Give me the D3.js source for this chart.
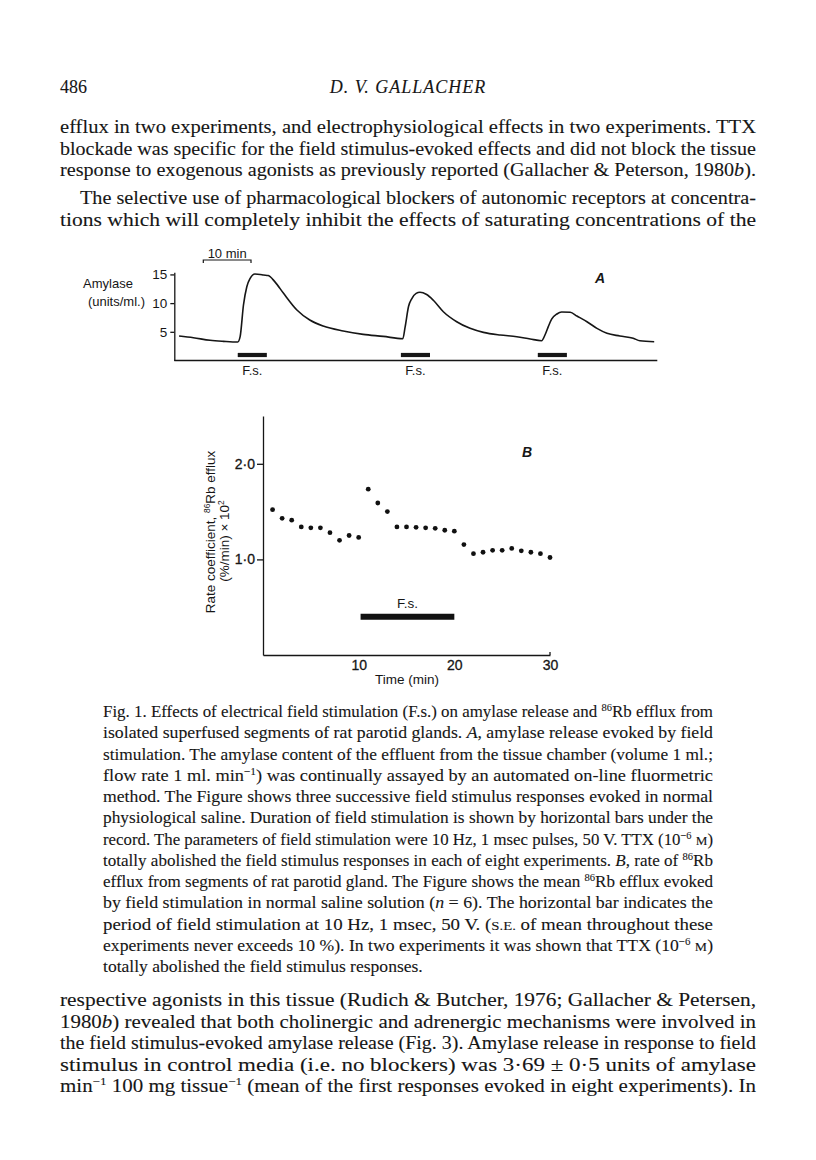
<!DOCTYPE html>
<html>
<head>
<meta charset="utf-8">
<script src="https://cdn.jsdelivr.net/npm/d3@7"></script>
<style>
  body { margin: 0; background: #fff; }
  text { fill: #161616; }
</style>
</head>
<body>
<svg id="page" width="816" height="1160"></svg>
<script>
// ---- Fig. 1A : amylase trace (time in min, amylase in units/ml.)
var traceTime = [1.0, 4.0, 7.5, 10.3, 13.3, 13.8, 14.5, 15.2, 15.9, 16.9, 18.0, 18.7, 19.7, 21.1, 22.9, 25.7,
  28.4, 31.2, 35.4, 39.6, 43.8, 47.9, 48.4, 49.1, 49.8, 50.7, 51.5, 52.9, 54.3, 56.4, 59.2, 62.0, 64.8, 68.3,
  71.8, 74.6, 77.0, 77.7, 78.4, 79.1, 80.2, 81.2, 83.0, 84.4, 86.5, 88.6, 90.7, 93.4, 96.2, 97.6, 100.6];
var traceAmylase = [4.27, 3.97, 3.52, 3.34, 3.22, 4.15, 9.67, 12.86, 14.3, 15.07, 15.0, 14.9, 14.8, 13.7, 11.7, 8.8,
  7.05, 6.0, 5.14, 4.56, 4.2, 3.8, 5.9, 9.4, 10.8, 11.7, 11.9, 11.5, 10.5, 8.5, 6.76, 5.6, 4.9, 4.44,
  4.15, 3.75, 3.45, 4.44, 5.9, 7.2, 8.1, 8.45, 8.4, 7.75, 6.76, 5.6, 4.74, 4.27, 3.87, 3.45, 3.28];
var stimStartA = [13.3, 47.5, 76.2];
var stimEndA = [19.4, 53.6, 82.3];
var ticksA = [5, 10, 15];

// ---- Fig. 1B : 86Rb efflux rate coefficient
var rbTime = [1, 2, 3, 4, 5, 6, 7, 8, 9, 10, 11, 12, 13, 14, 15, 16, 17, 18, 19, 20,
  21, 22, 23, 24, 25, 26, 27, 28, 29, 30];
var rbRate = [1.52, 1.43, 1.41, 1.34, 1.33, 1.33, 1.28, 1.20, 1.25, 1.23, 1.735, 1.59, 1.50, 1.34, 1.34, 1.335,
  1.33, 1.325, 1.305, 1.295, 1.155, 1.06, 1.075, 1.095, 1.095, 1.115, 1.09, 1.075, 1.06, 1.02];
var stimB = [10.2, 20];
var ticksBy = [1.0, 2.0];
var ticksBx = [10, 20, 30];

// ---- page text (*italic*, ^superscript^, ~small caps~)
var bodyTop = [
  "efflux in two experiments, and electrophysiological effects in two experiments. TTX",
  "blockade was specific for the field stimulus-evoked effects and did not block the tissue",
  "response to exogenous agonists as previously reported (Gallacher & Peterson, 1980*b*).",
  "The selective use of pharmacological blockers of autonomic receptors at concentra-",
  "tions which will completely inhibit the effects of saturating concentrations of the"
];
var captionLines = [
  "Fig. 1. Effects of electrical field stimulation (F.s.) on amylase release and ^86^Rb efflux from",
  "isolated superfused segments of rat parotid glands. *A*, amylase release evoked by field",
  "stimulation. The amylase content of the effluent from the tissue chamber (volume 1 ml.;",
  "flow rate 1 ml. min^\u22121^) was continually assayed by an automated on-line fluormetric",
  "method. The Figure shows three successive field stimulus responses evoked in normal",
  "physiological saline. Duration of field stimulation is shown by horizontal bars under the",
  "record. The parameters of field stimulation were 10 Hz, 1 msec pulses, 50 V. TTX (10^\u22126^ ~M~)",
  "totally abolished the field stimulus responses in each of eight experiments. *B*, rate of ^86^Rb",
  "efflux from segments of rat parotid gland. The Figure shows the mean ^86^Rb efflux evoked",
  "by field stimulation in normal saline solution (*n* = 6). The horizontal bar indicates the",
  "period of field stimulation at 10 Hz, 1 msec, 50 V. (~S.E.~ of mean throughout these",
  "experiments never exceeds 10 %). In two experiments it was shown that TTX (10^\u22126^ ~M~)",
  "totally abolished the field stimulus responses."
];
var bodyBottom = [
  "respective agonists in this tissue (Rudich & Butcher, 1976; Gallacher & Petersen,",
  "1980*b*) revealed that both cholinergic and adrenergic mechanisms were involved in",
  "the field stimulus-evoked amylase release (Fig. 3). Amylase release in response to field",
  "stimulus in control media (i.e. no blockers) was 3\u00b769 \u00b1 0\u00b75 units of amylase",
  "min^\u22121^ 100 mg tissue^\u22121^ (mean of the first responses evoked in eight experiments). In"
];

var svg = d3.select('#page');
var serif = '"Liberation Serif", "Times New Roman", serif';
var sans = '"Liberation Sans", Arial, sans-serif';

// write one line of marked-up text, optionally stretched to a given width
function richText(g, x, y, str, size, width) {
  var t = g.append('text')
      .attr('x', x)
      .attr('y', y)
      .style('font-size', size + 'px');
  var parts = str.split(/(\*[^*]+\*|\^[^^]+\^|~[^~]+~)/).filter(function(s) { return s.length; });
  var shift = Math.round(size * 0.38);
  var raised = false;
  parts.forEach(function(p) {
    var span = t.append('tspan');
    if (raised) { span.attr('dy', shift); raised = false; }
    if (p[0] === '*') {
      span.style('font-style', 'italic').text(p.slice(1, -1));
    } else if (p[0] === '^') {
      span.attr('dy', -shift).style('font-size', (size * 0.62) + 'px').text(p.slice(1, -1));
      raised = true;
    } else if (p[0] === '~') {
      span.style('font-size', (size * 0.78) + 'px').text(p.slice(1, -1));
    } else {
      span.text(p);
    }
  });
  if (width) {
    t.attr('textLength', width).attr('lengthAdjust', 'spacingAndGlyphs');
  }
  return t;
}

// a justified block; lines in `loose` keep the block's average stretch
function textBlock(g, lines, x0, x1, y0, lead, size, indents, loose) {
  var ratios = [];
  var nodes = lines.map(function(line, i) {
    var x = x0 + (indents[i] || 0);
    var t = richText(g, x, y0 + i * lead, line, size);
    var w = t.node().getComputedTextLength();
    if (loose.indexOf(i) < 0) ratios.push((x1 - x) / w);
    return { t: t, x: x, w: w, loose: loose.indexOf(i) >= 0 };
  });
  var avg = d3.mean(ratios);
  nodes.forEach(function(n) {
    var target = n.loose ? n.w * avg : x1 - n.x;
    n.t.attr('textLength', target).attr('lengthAdjust', 'spacingAndGlyphs');
  });
}

var textG = svg.append('g')
    .style('font-family', serif)
    .style('stroke', '#161616')
    .style('stroke-width', 0.1);

// running head
richText(textG, 60, 93, '486', 18);
textG.append('text')
    .attr('x', 408)
    .attr('y', 93)
    .attr('text-anchor', 'middle')
    .style('font-size', '18px')
    .style('font-style', 'italic')
    .style('letter-spacing', '1px')
    .text('D. V. GALLACHER');

textBlock(textG, bodyTop.slice(0, 3), 60, 756, 133, 21.6, 18, [], []);
textBlock(textG, bodyTop.slice(3), 60, 756, 204, 21.6, 18, [20, 0], []);
textBlock(textG, captionLines, 103, 713, 717, 21.25, 16.2, [], [12]);
textBlock(textG, bodyBottom, 60, 756, 1006, 21.6, 18, [], []);

// ================= chart A =================
var xA = d3.scaleLinear().domain([0, 101.25]).range([174.3, 657.3]);
var yA = d3.scaleLinear().domain([0, 15.37]).range([360.5, 272.3]);

var gA = svg.append('g').style('font-family', sans);

gA.append('g')
    .attr('transform', 'translate(' + xA(0) + ',0)')
    .call(d3.axisLeft(yA).tickValues(ticksA).tickSizeInner(4).tickSizeOuter(0).tickPadding(3))
    .call(function(g) {
      g.select('.domain').attr('stroke', '#161616').attr('stroke-width', 1.3);
      g.selectAll('.tick line').attr('stroke', '#161616').attr('stroke-width', 1.3);
      g.selectAll('.tick text').style('font-size', '13.5px').style('font-family', sans).attr('fill', '#161616');
    });

gA.append('line')
    .attr('x1', xA(0)).attr('x2', xA(101.25))
    .attr('y1', yA(0)).attr('y2', yA(0))
    .attr('stroke', '#161616').attr('stroke-width', 1.3);

var traceA = traceTime.map(function(t, i) { return [t, traceAmylase[i]]; });
gA.append('path')
    .datum(traceA)
    .attr('fill', 'none')
    .attr('stroke', '#161616')
    .attr('stroke-width', 1.6)
    .attr('d', d3.line()
        .x(function(d) { return xA(d[0]); })
        .y(function(d) { return yA(d[1]); })
        .curve(d3.curveMonotoneX));

stimStartA.forEach(function(s, i) {
  gA.append('line')
      .attr('x1', xA(s)).attr('x2', xA(stimEndA[i]))
      .attr('y1', yA(0.96)).attr('y2', yA(0.96))
      .attr('stroke', '#161616').attr('stroke-width', 4.2);
  gA.append('text')
      .attr('x', xA((s + stimEndA[i]) / 2))
      .attr('y', 375)
      .attr('text-anchor', 'middle')
      .style('font-size', '13px')
      .text('F.s.');
});

// 10 min calibration bracket
var calStart = 6.08;
gA.append('path')
    .attr('d', 'M' + xA(calStart) + ',263V260H' + xA(calStart + 10) + 'V263')
    .attr('fill', 'none').attr('stroke', '#161616').attr('stroke-width', 1.2);
gA.append('text')
    .attr('x', (xA(calStart) + xA(calStart + 10)) / 2)
    .attr('y', 258)
    .attr('text-anchor', 'middle')
    .style('font-size', '13px')
    .text('10 min');

gA.append('text').attr('x', 108).attr('y', 288).attr('text-anchor', 'middle')
    .style('font-size', '13px').text('Amylase');
gA.append('text').attr('x', 145).attr('y', 306).attr('text-anchor', 'end')
    .style('font-size', '13px').text('(units/ml.)');
gA.append('text').attr('x', 600).attr('y', 283).attr('text-anchor', 'middle')
    .style('font-size', '14px').style('font-style', 'italic').style('font-weight', 'bold').text('A');

// ================= chart B =================
var xB = d3.scaleLinear().domain([0, 30]).range([263, 550]);
var yB = d3.scaleLinear().domain([0, 2.5]).range([655, 416]);

var gB = svg.append('g').style('font-family', sans);

gB.append('g')
    .attr('transform', 'translate(' + xB(0) + ',0)')
    .call(d3.axisLeft(yB).tickValues(ticksBy).tickSizeInner(6).tickSizeOuter(0).tickPadding(2)
        .tickFormat(function(d) { return d.toFixed(1).replace('.', '\u00b7'); }))
    .call(function(g) {
      g.select('.domain').attr('stroke', '#161616').attr('stroke-width', 1.3);
      g.selectAll('.tick line').attr('stroke', '#161616').attr('stroke-width', 1.3);
      g.selectAll('.tick text').style('font-size', '14px').style('font-family', sans)
          .attr('fill', '#161616').attr('stroke', '#161616').attr('stroke-width', 0.3);
    });

gB.append('g')
    .attr('transform', 'translate(0,' + yB(0) + ')')
    .call(d3.axisBottom(xB).tickValues(ticksBx).tickSizeInner(0).tickSizeOuter(0).tickPadding(5))
    .call(function(g) {
      g.select('.domain').attr('stroke', '#161616').attr('stroke-width', 1.3);
      g.selectAll('.tick text').style('font-size', '14px').style('font-family', sans)
          .attr('fill', '#161616').attr('stroke', '#161616').attr('stroke-width', 0.3);
    });
gB.append('line')
    .attr('x1', xB(30)).attr('x2', xB(30))
    .attr('y1', yB(0)).attr('y2', yB(0) - 3)
    .attr('stroke', '#161616').attr('stroke-width', 1.3);

gB.selectAll('circle.rb')
    .data(rbTime)
    .enter().append('circle')
    .attr('class', 'rb')
    .attr('cx', function(d) { return xB(d); })
    .attr('cy', function(d, i) { return yB(rbRate[i]); })
    .attr('r', 2.4)
    .attr('fill', '#111');

gB.append('line')
    .attr('x1', xB(stimB[0])).attr('x2', xB(stimB[1]))
    .attr('y1', yB(0.4)).attr('y2', yB(0.4))
    .attr('stroke', '#111').attr('stroke-width', 6);
gB.append('text')
    .attr('x', xB((stimB[0] + stimB[1]) / 2))
    .attr('y', 608)
    .attr('text-anchor', 'middle')
    .style('font-size', '13.5px')
    .text('F.s.');

gB.append('text').attr('x', 527).attr('y', 457).attr('text-anchor', 'middle')
    .style('font-size', '14px').style('font-style', 'italic').style('font-weight', 'bold').text('B');

gB.append('text').attr('x', 407).attr('y', 684).attr('text-anchor', 'middle')
    .style('font-size', '13.5px').text('Time (min)');

var yLab1 = richText(gB, 0, 0, 'Rate coefficient, ^86^Rb efflux', 13.5);
yLab1.style('font-family', sans).attr('text-anchor', 'middle')
    .attr('transform', 'translate(215,532) rotate(-90)');
var yLab2 = richText(gB, 0, 0, '(%/min) \u00d7 10^2^', 13.5);
yLab2.style('font-family', sans).attr('text-anchor', 'middle')
    .attr('transform', 'translate(229,541) rotate(-90)');
</script>
</body>
</html>
